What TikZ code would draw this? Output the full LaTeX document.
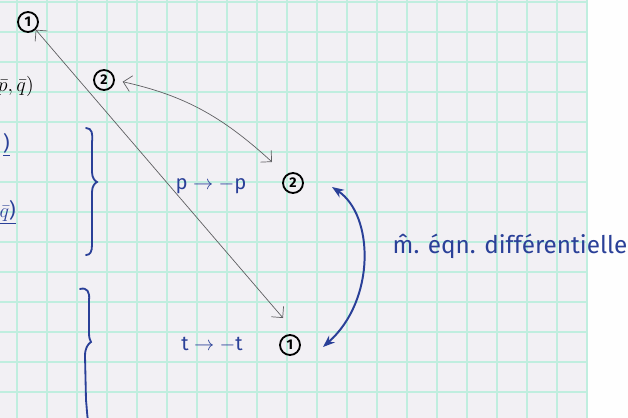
\documentclass[tikz,border=0pt]{standalone}
\usepackage{fontspec}
\setsansfont{Fira Sans}
\usetikzlibrary{arrows.meta, positioning}
\definecolor{gridmint}{RGB}{192,238,223}
\definecolor{paper}{RGB}{242,240,244}
\definecolor{inkblue}{RGB}{42,64,152}
\definecolor{pencil}{RGB}{95,95,98}

\begin{document}
\begin{tikzpicture}[
    x=0.025cm, y=-0.025cm,
    num/.style={circle, draw=black, line width=1.3pt, inner sep=0pt, minimum size=0.5cm, font=\sffamily\bfseries},
    hand/.style={text=inkblue, font=\sffamily\LARGE, inner sep=1pt},
    frag/.style={inner sep=0pt, font=\sffamily\Large},
    pencilarrow/.style={{Straight Barb[length=2mm]}-{Straight Barb[length=2mm]}, pencil, line width=0.5pt},
    inkarrow/.style={{Stealth[length=3mm]}-{Stealth[length=3mm]}, inkblue, line width=1.4pt},
    brace/.style={inkblue, line width=1.3pt, line cap=round}
]
\useasboundingbox (0,0) rectangle (628,418);
\clip (0,0) rectangle (628,418);

% Paper
\fill[paper] (0,0) rectangle (628,418);
\fill[white!96!paper] (587,0) rectangle (628,418);
\foreach \gx in {17,47,...,587} \draw[gridmint, line width=0.8pt] (\gx,0) -- (\gx,418);
\foreach \gy in {2,32,...,392} \draw[gridmint, line width=0.8pt] (0,\gy) -- (587,\gy);

% Fragments on the left
\node[frag, anchor=east, text=black] (pq) at (34,86) {$\bar p,\bar q)$};
\node[frag, anchor=east, text=inkblue] (fragA) at (10,145) {\underline{)}};
\node[frag, anchor=east, text=inkblue] (fragB) at (16,212) {\underline{$\bar q$)}};

% Numbered marks
\node[num] (oneA) at (28,22) {1};
\node[num] (twoA) at (104,80) {2};
\node[num] (twoB) at (293,183) {2};
\node[num] (oneB) at (290,345) {1};

% Symmetries
\node[hand, font=\sffamily\Large] (ptrans) at (211,186) {p $\to$ $-$p};
\node[hand, font=\sffamily\Large] (ttrans) at (212,345) {t $\to$ $-$t};
\node[hand, anchor=west] (eqn) at (391,246) {\^m. éqn. différentielle};

% Braces
\draw[brace] (86,128) .. controls (92,128) and (93,134) .. (92,142) -- (92,172)
    .. controls (92,178) and (95,181) .. (97,182) .. controls (95,183) and (92,186) .. (92,192)
    -- (92,245) .. controls (92,252) and (90,255) .. (86,255);
\draw[brace] (80,289) .. controls (87,287) and (90,292) .. (89,300) -- (89,333)
    .. controls (89,338) and (90,340) .. (91,342) .. controls (88,344) and (85,348) .. (85,356)
    -- (86,400) .. controls (87,410) and (87,415) .. (88,420);

% Arrows
\coordinate (diagEnd) at (283,318);
\coordinate (curveEnd) at (272,162);
\coordinate (inkTop) at (332,187);
\coordinate (inkBot) at (323,347);
\draw[pencilarrow] (oneA.south east) -- (diagEnd);
\draw[pencilarrow, shorten <=0.2cm] (twoA.east) to[bend left=15] (curveEnd);
\draw[inkarrow] (inkTop) .. controls (374,215) and (376,300) .. (inkBot);
\end{tikzpicture}
\end{document}
